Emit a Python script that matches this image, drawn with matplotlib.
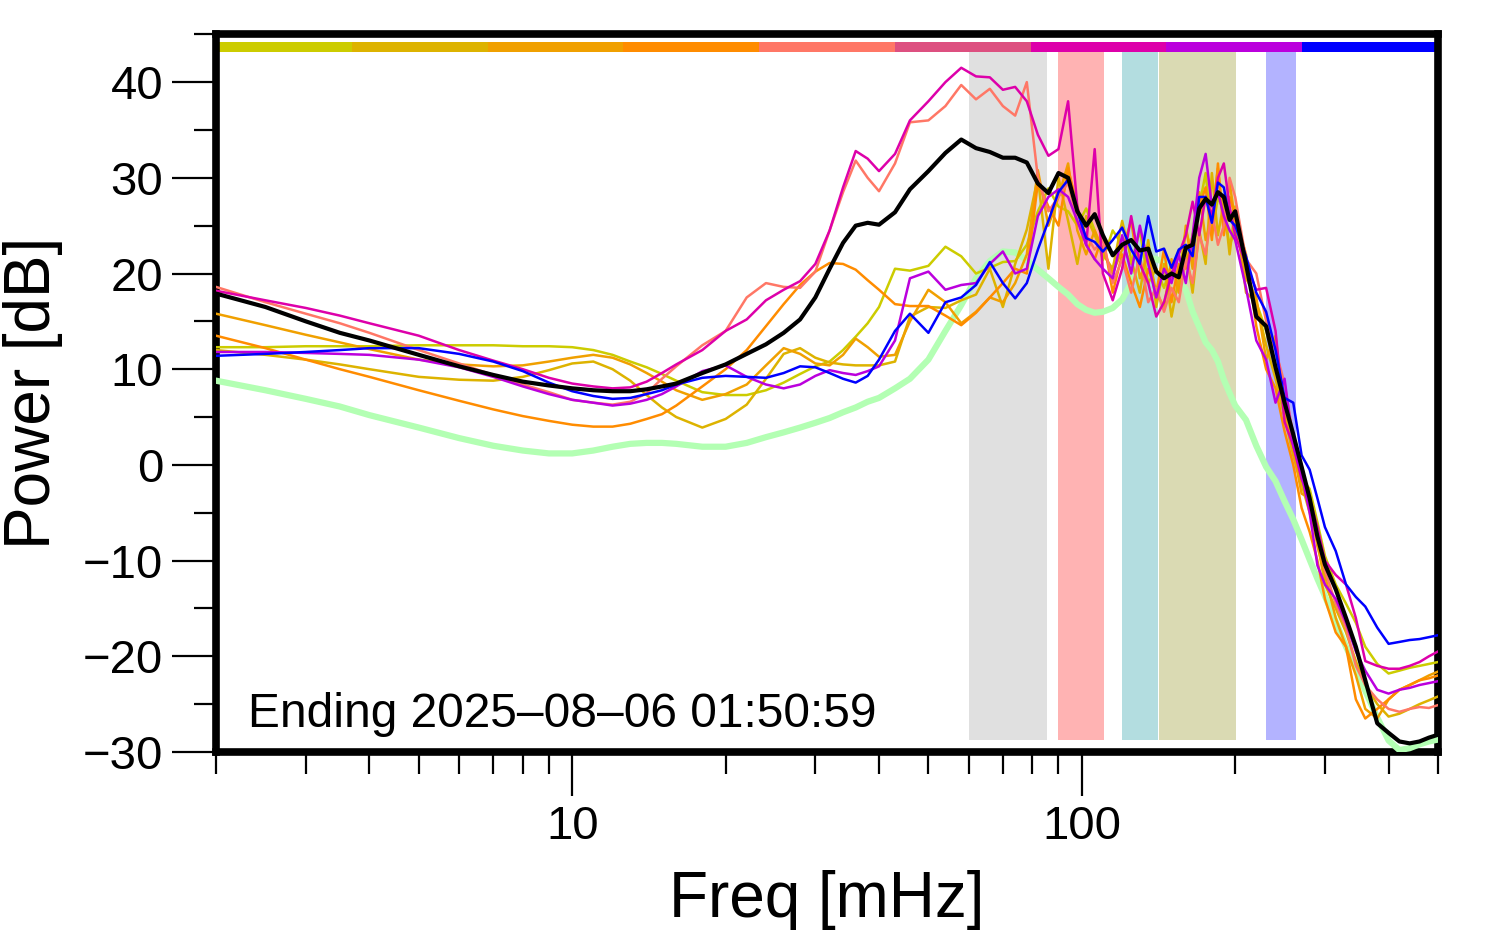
import numpy as np
import matplotlib.pyplot as plt
from matplotlib.ticker import FixedLocator, FixedFormatter, NullFormatter

plt.rcParams['font.family'] = ['Liberation Sans', 'DejaVu Sans']

# frequency grid [mHz]
freq = [2, 2.5, 3, 3.5, 4, 5, 6, 7, 8, 9, 10, 11, 12, 13, 14, 15, 16, 18, 20,
        22, 24, 26, 28, 30, 32, 34, 36, 38, 40, 43, 46, 50, 54, 58, 62, 66,
        70, 74, 78, 82, 86, 90, 94, 98, 102, 106, 110, 115, 120, 125, 130,
        135, 140, 145, 150, 155, 160, 165, 170, 175, 180, 185, 190, 195, 200,
        210, 220, 230, 240, 250, 260, 270, 280, 290, 300, 315, 330, 345, 360,
        380, 400, 420, 440, 460, 480, 500]

# power spectra [dB], one per colour of the strip
yellow = [12.3, 12.3, 12.4, 12.4, 12.4, 12.5, 12.5, 12.5, 12.4, 12.4, 12.3,
          12.0, 11.5, 10.8, 10.2, 9.5, 8.8, 7.6, 7.3, 7.3, 7.8, 8.6, 9.5,
          10.3, 10.8, 12.0, 13.4, 14.8, 16.5, 20.5, 20.3, 20.8, 22.8, 21.8,
          20.0, 20.6, 21.2, 21.3, 23.0, 26.5, 28.9, 27.0, 26.5, 25.0, 26.8,
          24.5, 21.4, 24.5, 23.0, 21.0, 24.5, 19.0, 20.5, 18.5, 21.0, 19.5,
          24.5, 22.0, 27.0, 30.5, 24.0, 28.0, 26.5, 23.0, 24.5, 20.5, 17.0,
          14.0, 10.0, 5.0, 2.5, -1.5, -2.5, -6.0, -9.5, -12.5, -14.5, -16.5,
          -19.0, -20.8, -21.8, -21.5, -21.2, -21.0, -20.8, -20.6]
gold = [12.0, 11.5, 11.0, 10.5, 10.0, 9.2, 8.9, 8.8, 9.2, 9.9, 10.6, 10.8,
        10.0, 8.8, 7.3, 6.0, 5.0, 3.9, 4.8, 6.3, 9.0, 11.6, 12.2, 11.2, 10.7,
        10.5, 10.4, 10.4, 10.4, 10.8, 15.5, 16.5, 16.4, 17.2, 17.8, 20.5,
        16.5, 21.0, 24.6, 30.0, 20.5, 30.0, 25.5, 21.0, 26.0, 24.0, 22.0,
        20.5, 25.5, 21.5, 18.0, 23.5, 16.5, 21.0, 15.5, 19.5, 22.5, 18.0,
        24.5, 21.0, 30.5, 24.0, 27.5, 22.0, 27.0, 18.0, 17.0, 12.5, 9.0, 5.0,
        1.0, -2.0, -5.0, -8.0, -12.5, -15.0, -17.5, -20.5, -23.0, -25.0,
        -26.3, -26.0, -25.5, -25.0, -24.6, -24.2]
orange = [15.8, 14.6, 13.6, 12.8, 12.1, 11.0, 10.5, 10.3, 10.4, 10.8, 11.2,
          11.5, 11.2, 10.5, 9.6, 8.7, 7.8, 6.8, 7.4, 8.4, 10.4, 12.2, 11.6,
          10.6, 10.4, 11.5, 13.2, 12.3, 11.3, 11.5, 15.0, 18.3, 17.0, 14.8,
          16.0, 17.5, 17.0, 19.0, 22.0, 30.8, 25.0, 28.0, 31.5, 24.5, 22.0,
          24.5, 22.5, 20.0, 22.5, 25.5, 19.5, 22.0, 18.0, 16.5, 21.5, 18.0,
          25.0, 20.5, 28.5, 23.5, 26.0, 31.0, 25.0, 29.5, 25.5, 19.5, 17.5,
          11.0, 13.5, 5.5, 1.5, -3.0, -3.5, -8.5, -11.5, -16.0, -19.0, -22.0,
          -25.5, -26.5, -24.5, -23.5, -23.0, -22.5, -22.0, -21.6]
darkorange = [13.5, 12.2, 11.0, 10.0, 9.2, 7.8, 6.7, 5.8, 5.1, 4.6, 4.2, 4.0,
              4.0, 4.3, 4.8, 5.3, 6.2, 8.2, 10.0, 12.0, 14.5, 16.8, 18.8,
              20.2, 21.1, 21.0, 20.4, 19.3, 18.3, 16.8, 16.6, 16.6, 15.6,
              14.6, 15.9, 17.5, 19.0, 20.5, 20.0, 29.5, 27.0, 25.0, 31.0,
              27.0, 23.0, 21.5, 24.0, 18.0, 22.0, 19.0, 16.5, 20.5, 18.0,
              22.5, 17.0, 21.0, 20.5, 24.0, 27.0, 29.0, 23.5, 31.5, 24.0,
              28.0, 26.0, 22.0, 14.5, 10.0, 8.0, 3.5, 0.0, -4.5, -7.0, -10.0,
              -14.0, -17.5, -19.0, -24.5, -26.5, -25.5, -24.5, -23.5, -23.0,
              -22.5, -22.3, -22.0]
salmon = [18.6, 17.0, 15.8, 14.8, 13.8, 12.0, 10.6, 9.4, 8.4, 7.6, 6.8, 6.5,
          6.3, 6.6, 7.5, 9.0, 10.3, 12.5, 14.0, 17.5, 19.0, 18.6, 18.5, 20.2,
          24.5, 28.5, 31.8, 30.0, 28.6, 31.5, 35.8, 36.0, 37.5, 39.7, 38.2,
          39.3, 37.5, 36.5, 40.0, 30.0, 26.5, 28.0, 29.5, 25.5, 24.0, 22.5,
          23.5, 19.0, 21.5, 18.0, 22.0, 17.0, 18.5, 16.0, 18.5, 17.0, 21.5,
          19.0, 24.0, 22.0, 26.5, 23.0, 25.0, 30.0, 28.0, 21.5, 20.0, 15.0,
          12.0, 8.5, 3.0, 0.0, -4.0, -7.0, -11.0, -14.5, -17.0, -21.0, -23.0,
          -24.5, -25.5, -25.8, -25.5, -25.3, -25.4, -25.1]
magenta = [18.2, 17.2, 16.4, 15.6, 14.8, 13.5, 12.0, 10.9, 10.0, 9.1, 8.5,
           8.2, 8.0, 8.1, 8.7, 9.6, 10.5, 12.0, 14.0, 15.2, 17.2, 18.3, 19.2,
           21.0, 24.5, 29.0, 32.8, 32.0, 30.7, 32.5, 36.0, 38.0, 40.0, 41.5,
           40.6, 40.5, 39.2, 39.5, 38.0, 34.5, 32.3, 33.0, 38.0, 27.0, 23.0,
           33.0, 20.0, 17.2, 20.5, 26.0, 21.0, 19.0, 15.5, 17.0, 20.0, 22.0,
           24.0, 27.5, 24.0, 28.0, 26.0, 30.0, 31.5, 27.0, 24.0, 21.0, 18.3,
           18.5, 14.0, 4.5, 2.0, -1.5, -3.5, -6.5, -10.0, -11.5, -12.5, -16.0,
           -20.5, -21.0, -21.3, -21.3, -21.0, -20.6, -20.0, -19.5]
purple = [11.8, 11.8, 11.7, 11.6, 11.5, 11.0, 10.2, 9.2, 8.2, 7.4, 6.8, 6.5,
          6.2, 6.4, 6.8, 7.4, 8.2, 9.8, 10.4, 9.2, 8.4, 8.0, 8.4, 9.3, 9.9,
          9.6, 9.4, 9.8, 10.3, 13.0, 19.5, 20.2, 18.3, 18.8, 19.0, 21.0, 22.3,
          20.0, 20.5, 26.0, 28.0, 28.8, 28.0, 25.5, 23.0, 21.5, 20.5, 19.5,
          24.0, 20.0, 25.0, 21.0, 17.5, 20.5, 19.0, 22.0, 19.0, 24.0, 30.0,
          32.5, 27.0, 28.5, 26.0, 24.5, 23.5, 18.5, 13.0, 11.0, 6.5, 9.0, 2.0,
          -1.0, -5.0, -10.5, -12.5, -14.0, -16.5, -19.5, -21.5, -23.5, -23.9,
          -23.5, -23.3, -23.0, -22.8, -22.6]
blue = [11.4, 11.6, 11.8, 12.0, 12.2, 12.2, 11.6, 10.8, 9.8, 8.6, 7.7, 7.2,
        6.9, 7.0, 7.4, 7.8, 8.4, 9.1, 9.3, 9.2, 9.1, 9.6, 10.3, 10.2, 9.6, 9.0,
        8.6, 9.3, 11.0, 14.0, 15.8, 13.8, 17.0, 17.5, 18.8, 21.2, 19.0, 17.4,
        19.0, 22.5, 25.5, 28.5, 29.8, 26.5, 23.7, 23.3, 22.3, 23.5, 24.8,
        22.5, 21.0, 26.0, 22.3, 22.6, 20.6, 22.5, 23.0, 21.8, 28.0, 28.0,
        25.3, 29.5, 29.0, 25.6, 25.0, 21.8, 18.0, 16.0, 12.0, 7.0, 6.5, 1.0,
        -0.5, -3.5, -6.5, -9.0, -12.5, -13.8, -14.8, -17.0, -18.7, -18.5,
        -18.3, -18.2, -18.0, -17.8]
mean = [17.9, 16.5, 15.0, 13.8, 13.0, 11.5, 10.3, 9.4, 8.7, 8.3, 8.0, 7.8,
        7.7, 7.7, 7.9, 8.2, 8.5, 9.6, 10.5, 11.6, 12.6, 13.8, 15.2, 17.5,
        20.5, 23.2, 25.0, 25.3, 25.1, 26.4, 28.8, 30.7, 32.6, 34.0, 33.1,
        32.7, 32.1, 32.1, 31.6, 29.4, 28.4, 30.5, 30.0, 26.5, 25.0, 26.2,
        24.0, 21.9, 23.0, 23.5, 22.4, 22.6, 20.2, 19.5, 20.0, 19.6, 22.7,
        23.0, 26.8, 27.8, 27.2, 28.5, 28.0, 25.6, 26.5, 21.0, 15.5, 14.5,
        10.2, 6.5, 3.2, -0.2, -3.5, -7.5, -10.4, -13.0, -16.0, -19.0, -22.5,
        -27.0, -28.0, -28.9, -29.1, -28.9, -28.5, -28.2]
background = [8.8, 7.8, 6.9, 6.1, 5.2, 3.9, 2.8, 2.0, 1.5, 1.2, 1.2, 1.5, 1.9,
              2.2, 2.3, 2.3, 2.2, 1.9, 1.9, 2.3, 2.9, 3.4, 3.9, 4.4, 4.9, 5.5,
              6.0, 6.6, 7.0, 8.0, 9.0, 11.0, 14.0, 16.7, 19.5, 21.3, 22.3,
              22.2, 21.4, 20.4, 19.5, 18.6, 17.8, 16.8, 16.2, 15.9, 16.0, 16.4,
              17.3, 19.0, 21.0, 21.6, 21.5, 21.2, 20.3, 19.5, 18.3, 16.0, 14.4,
              12.8, 12.0, 10.8, 8.9, 7.5, 6.2, 4.7, 2.0, -0.2, -1.7, -3.8,
              -5.7, -7.8, -9.9, -11.9, -13.7, -16.4, -19.0, -21.2, -23.6,
              -26.4, -28.8, -29.8, -29.6, -29.2, -28.9, -28.7]

strip_colors = ['#CCCC00', '#DDB300', '#F0A000', '#FF8C00', '#FF7766',
                '#DD5080', '#DD00AA', '#BB00DD', '#0000FF']
line_colors = ['#CCCC00', '#DDB300', '#F0A000', '#FF8C00', '#FF7766',
               '#DD00AA', '#BB00DD', '#0000FF']

# shaded frequency bands [mHz]
band_lo = [60, 90, 120, 142, 230]
band_hi = [85.5, 110.5, 141, 201, 263]
band_colors = ['#E0E0E0', '#FFB3B3', '#B3DDE0', '#DADAB3', '#B3B3FF']

fig = plt.figure(figsize=(14.94, 9.52), dpi=100, facecolor='white')
ax = fig.add_axes([0.1446, 0.2101, 0.8179, 0.7539])
ax.set_xscale('log')

for lo, hi, c in zip(band_lo, band_hi, band_colors):
    ax.fill_between([lo, hi], -28.75, 43.1, color=c, lw=0, zorder=1)

edges = np.geomspace(2, 500, len(strip_colors) + 1)
for i, c in enumerate(strip_colors):
    ax.fill_between([edges[i], edges[i + 1]], 43.1, 44.15, color=c, lw=0,
                    zorder=2)

ax.plot(freq, background, color='#B3FFB3', lw=4.5, zorder=3,
        solid_joinstyle='round')
for vals, c in zip([yellow, gold, orange, darkorange, salmon, magenta,
                    purple, blue], line_colors):
    ax.plot(freq, vals, color=c, lw=1.8, zorder=4)
ax.plot(freq, mean, color='black', lw=3.0, zorder=5)

ax.text(2.31, -27.4, 'Ending 2025\u201308\u201306 01:50:59', fontsize=34.5,
        va='baseline', ha='left', zorder=6)

ax.set_xlim(2, 500)
ax.set_ylim(-30, 45)

ax.xaxis.set_major_locator(FixedLocator([10, 100]))
ax.xaxis.set_major_formatter(FixedFormatter(['10', '100']))
ax.xaxis.set_minor_locator(FixedLocator([2, 3, 4, 5, 6, 7, 8, 9, 20, 30, 40,
                                         50, 60, 70, 80, 90, 200, 300, 400,
                                         500]))
ax.xaxis.set_minor_formatter(NullFormatter())
ax.yaxis.set_major_locator(FixedLocator(np.arange(-30, 41, 10)))
ax.yaxis.set_minor_locator(FixedLocator(np.arange(-25, 46, 10)))

ax.tick_params(which='major', length=32, width=1.6, labelsize=34, pad=6,
               direction='out')
ax.tick_params(which='minor', length=16, width=1.6, direction='out')
ax.tick_params(top=False, right=False)

for s in ax.spines.values():
    s.set_linewidth(5.5)
    s.set_color('black')

ax.set_xlabel('Freq [mHz]', fontsize=46, va='center')
ax.xaxis.set_label_coords(0.5, -0.206)
ax.set_ylabel('Power [dB]', fontsize=46, va='center')
ax.yaxis.set_label_coords(-0.1498, 0.5)

fig.savefig('out.png', dpi=100, facecolor='white')
